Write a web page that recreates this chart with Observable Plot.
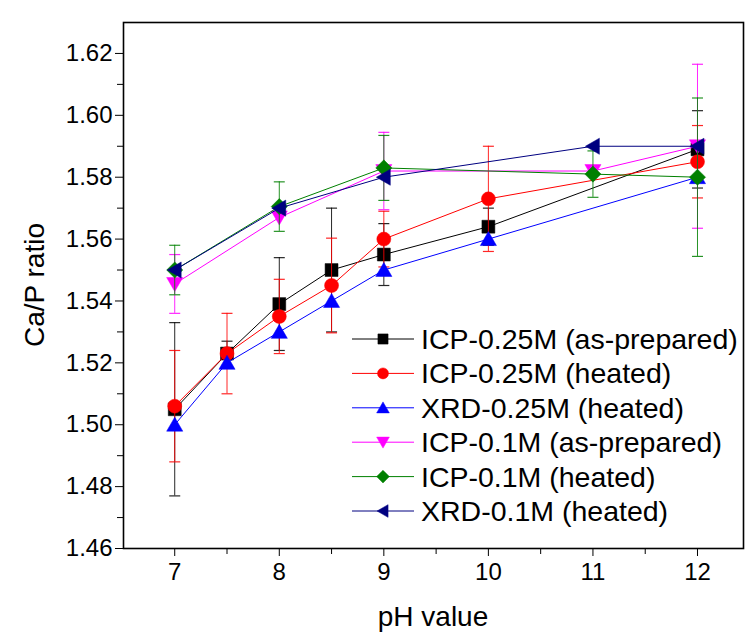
<!DOCTYPE html>
<html><head><meta charset="utf-8">
<script src="https://cdn.jsdelivr.net/npm/d3@7"></script>
<script src="https://cdn.jsdelivr.net/npm/@observablehq/plot@0.6"></script>
<style>
body{margin:0;background:#fff;}
#chart{position:relative;width:746px;height:634px;}
</style>
</head><body><div id="chart"></div>
<script>
// ---- data ----
const pH025 = [7, 7.5, 8, 8.5, 9, 10, 12];
const icp025Prepared    = [1.505, 1.523, 1.539, 1.550, 1.555, 1.564, 1.589];
const icp025PreparedErr = [0.028, 0.004, 0.015, 0.020, 0.010, 0.006, 0.0125];
const icp025Heated      = [1.506, 1.523, 1.535, 1.545, 1.560, 1.573, 1.585];
const icp025HeatedErr   = [0.018, 0.013, 0.012, 0.0153, 0.009, 0.017, 0.0117];
const xrd025Heated      = [1.500, 1.520, 1.530, 1.540, 1.550, 1.560, 1.580];

const pH01 = [7, 8, 9, 11, 12];
const icp01Prepared    = [1.5455, 1.567, 1.582, 1.582, 1.590];
const icp01PreparedErr = [0.0095, 0, 0.0125, 0, 0.0265];
const icp01Heated      = [1.550, 1.5705, 1.583, 1.581, 1.580];
const icp01HeatedErr   = [0.008, 0.008, 0.0105, 0.0075, 0.0256];
const xrd01Heated      = [1.550, 1.570, 1.580, 1.590, 1.590];

const seriesNames = ["ICP-0.25M (as-prepared)", "ICP-0.25M (heated)", "XRD-0.25M (heated)",
                     "ICP-0.1M (as-prepared)", "ICP-0.1M (heated)", "XRD-0.1M (heated)"];
const seriesColors = ["#000000", "#ff0000", "#0000ff", "#ff00ff", "#008000", "#000080"];

const xMajorTicks = [7, 8, 9, 10, 11, 12];
const xMinorTicks = [7.5, 8.5, 9.5, 10.5, 11.5];
const yMajorTicks = [1.46, 1.48, 1.50, 1.52, 1.54, 1.56, 1.58, 1.60, 1.62];
const yMinorTicks = [1.47, 1.49, 1.51, 1.53, 1.55, 1.57, 1.59, 1.61];

// ---- symbols ----
function shape(points) {
  return {draw(ctx, size) {
    const k = Math.sqrt(size / Math.PI) / 6.5;
    ctx.moveTo(points[0][0] * k, points[0][1] * k);
    for (let i = 1; i < points.length; i++) ctx.lineTo(points[i][0] * k, points[i][1] * k);
    ctx.closePath();
  }};
}
const symSquare = shape([[-6, -6], [6, -6], [6, 6], [-6, 6]]);
const symCircle = {draw(ctx, size) { const r = Math.sqrt(size / Math.PI); ctx.moveTo(r, 0); ctx.arc(0, 0, r, 0, 2 * Math.PI); }};
const symUp = shape([[0, -7], [7.5, 6], [-7.5, 6]]);
const symDown = shape([[0, 7], [7.5, -6], [-7.5, -6]]);
const symDiamond = shape([[0, -7.5], [7.5, 0], [0, 7.5], [-7.5, 0]]);
const symLeft = shape([[-7, 0], [6, -7.5], [6, 7.5]]);
const symCap = {draw(ctx, size) { ctx.moveTo(-5.5, 0); ctx.lineTo(5.5, 0); }};
const seriesSymbols = [symSquare, symCircle, symUp, symDown, symDiamond, symLeft];

const seriesX = [pH025, pH025, pH025, pH01, pH01, pH01];
const seriesY = [icp025Prepared, icp025Heated, xrd025Heated, icp01Prepared, icp01Heated, xrd01Heated];
const seriesErr = [icp025PreparedErr, icp025HeatedErr, null, icp01PreparedErr, icp01HeatedErr, null];

const marks = [];
seriesNames.forEach((name, s) => {
  const rows = seriesX[s].map((x, i) => ({x, y: seriesY[s][i], e: seriesErr[s] ? seriesErr[s][i] : 0}));
  const color = seriesColors[s];
  const er = rows.filter(d => d.e > 0);
  marks.push(Plot.line(rows, {x: "x", y: "y", stroke: color, strokeWidth: 1}));
  marks.push(Plot.ruleX(er, {x: "x", y1: d => d.y - d.e, y2: d => d.y + d.e, stroke: color, strokeWidth: 1, strokeOpacity: 0.85}));
  marks.push(Plot.dot(er, {x: "x", y: d => d.y - d.e, symbol: symCap, r: 5, fill: "none", stroke: color, strokeWidth: 1.2, strokeOpacity: 0.85}));
  marks.push(Plot.dot(er, {x: "x", y: d => d.y + d.e, symbol: symCap, r: 5, fill: "none", stroke: color, strokeWidth: 1.2, strokeOpacity: 0.85}));
  marks.push(Plot.dot(rows, {x: "x", y: "y", symbol: seriesSymbols[s], r: 7, fill: color, stroke: color, strokeWidth: 0.5}));
});

const W = 746, H = 634, ML = 123, MR = 3, MT = 22, MB = 86;
const chart = Plot.plot({
  width: W, height: H,
  marginLeft: ML, marginRight: MR, marginTop: MT, marginBottom: MB,
  style: {fontFamily: "'Liberation Sans', Arial, sans-serif", fontSize: "24px", background: "#fff", color: "#000"},
  x: {domain: [6.51, 12.44], label: null},
  y: {domain: [1.46, 1.63], label: null},
  marks: [
    Plot.axisX({ticks: xMajorTicks, tickSize: 8, tickPadding: 6, tickFormat: d => String(d), label: null, stroke: "#000", fontSize: 24}),
    Plot.axisX({ticks: xMinorTicks, tickSize: 6, tickFormat: () => "", label: null, stroke: "#000"}),
    Plot.axisY({ticks: yMajorTicks, tickSize: 8, tickPadding: 3, tickFormat: d3.format(".2f"), label: null, stroke: "#000", fontSize: 24}),
    Plot.axisY({ticks: yMinorTicks, tickSize: 6, tickFormat: () => "", label: null, stroke: "#000"}),
    ...marks,
    Plot.frame({stroke: "#000", strokeWidth: 1.6})
  ]
});
document.getElementById("chart").appendChild(chart);

// ---- titles & legend ----
const svg = d3.select(chart);
svg.append("text").attr("x", (ML + W - MR) / 2).attr("y", 626).attr("text-anchor", "middle")
  .attr("font-size", 28).attr("fill", "#000").text("pH value");
svg.append("text").attr("transform", `translate(44,${(MT + H - MB) / 2}) rotate(-90)`).attr("text-anchor", "middle")
  .attr("font-size", 28).attr("fill", "#000").text("Ca/P ratio");

const lg = svg.append("g").attr("text-anchor", "start");
seriesNames.forEach((name, i) => {
  const y = 339 + i * 34.4;
  const g = lg.append("g");
  g.append("line").attr("x1", 352).attr("x2", 414).attr("y1", y).attr("y2", y)
    .attr("stroke", seriesColors[i]).attr("stroke-width", 1);
  const p = d3.path();
  seriesSymbols[i].draw(p, Math.PI * 5.5 * 5.5);
  g.append("path").attr("d", p.toString()).attr("transform", `translate(383,${y})`)
    .attr("fill", seriesColors[i]).attr("stroke", seriesColors[i]).attr("stroke-width", 0.5);
  g.append("text").attr("x", 421).attr("y", y).attr("dy", "0.35em").attr("font-size", 28.5)
    .attr("text-anchor", "start").attr("fill", "#000").text(name);
});
</script>
</body></html>
